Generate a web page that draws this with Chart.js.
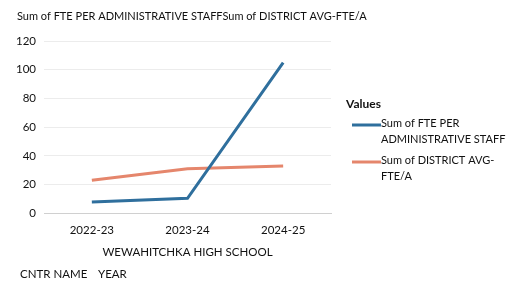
<!DOCTYPE html>
<html>
<head>
<meta charset="utf-8">
<script src="https://cdn.jsdelivr.net/npm/chart.js@4.4.0/dist/chart.umd.min.js"></script>
<style>
  html, body { margin: 0; padding: 0; background: #fff; }
  #wrap { width: 509px; height: 285px; position: relative; }
</style>
</head>
<body>
<div id="wrap"><canvas id="chart" width="509" height="285"></canvas></div>
<script>
const years = ['2022-23', '2023-24', '2024-25'];
const ftePerAdmin = [8, 10.5, 105];
const districtAvg = [23, 31, 33];
const yTicks = [0, 20, 40, 60, 80, 100, 120];

const FONT = 'Lato, "Open Sans", sans-serif';

// title, legend box and the little field buttons at the bottom
const extras = {
  id: 'extras',
  afterDraw(chart) {
    const ctx = chart.ctx;
    ctx.save();
    ctx.fillStyle = '#111';
    ctx.textBaseline = 'middle';
    ctx.textAlign = 'left';
    ctx.font = '11px ' + FONT;
    ctx.fillText('Sum of FTE PER ADMINISTRATIVE STAFFSum of DISTRICT AVG-FTE/A', 17, 16);

    ctx.font = 'bold 12px ' + FONT;
    ctx.fillText('Values', 346, 104);

    ctx.font = '11px ' + FONT;
    const rows = [
      ['Sum of FTE PER', 'ADMINISTRATIVE STAFF'],
      ['Sum of DISTRICT AVG-', 'FTE/A']
    ];
    chart.data.datasets.forEach((ds, i) => {
      const y = 123 + i * 37;
      ctx.strokeStyle = ds.borderColor;
      ctx.lineWidth = 3;
      ctx.beginPath();
      ctx.moveTo(352, y + 2);
      ctx.lineTo(381, y + 2);
      ctx.stroke();
      ctx.fillText(rows[i][0], 381, y);
      ctx.fillText(rows[i][1], 381, y + 16);
    });

    ctx.font = '11.5px ' + FONT;
    ctx.fillText('CNTR NAME', 20, 274);
    ctx.fillText('YEAR', 98, 274);
    ctx.restore();
  }
};

new Chart(document.getElementById('chart'), {
  type: 'line',
  data: {
    labels: years,
    datasets: [
      {
        label: 'Sum of FTE PER ADMINISTRATIVE STAFF',
        data: ftePerAdmin,
        borderColor: '#2f6f9d',
        borderWidth: 3,
        pointRadius: 0,
        tension: 0
      },
      {
        label: 'Sum of DISTRICT AVG-FTE/A',
        data: districtAvg,
        borderColor: '#e5866c',
        borderWidth: 3,
        pointRadius: 0,
        tension: 0
      }
    ]
  },
  options: {
    responsive: false,
    animation: false,
    layout: { padding: { top: 41, right: 178, left: 8, bottom: 26 } },
    plugins: {
      legend: { display: false },
      tooltip: { enabled: false }
    },
    scales: {
      x: {
        offset: true,
        grid: { display: false },
        border: { color: '#d0d0d0' },
        ticks: { color: '#111', font: { family: FONT, size: 11.5 }, padding: 2 },
        title: {
          display: true,
          text: 'WEWAHITCHKA HIGH SCHOOL',
          color: '#111',
          font: { family: FONT, size: 11.5 },
          padding: { top: 6, bottom: 0 }
        }
      },
      y: {
        min: 0,
        max: 120,
        afterBuildTicks(axis) { axis.ticks = yTicks.map(v => ({ value: v })); },
        grid: { color: '#ececec', drawTicks: false },
        border: { display: false },
        ticks: { color: '#111', font: { family: FONT, size: 11.5 }, padding: 8 }
      }
    }
  },
  plugins: [extras]
});
</script>
</body>
</html>
